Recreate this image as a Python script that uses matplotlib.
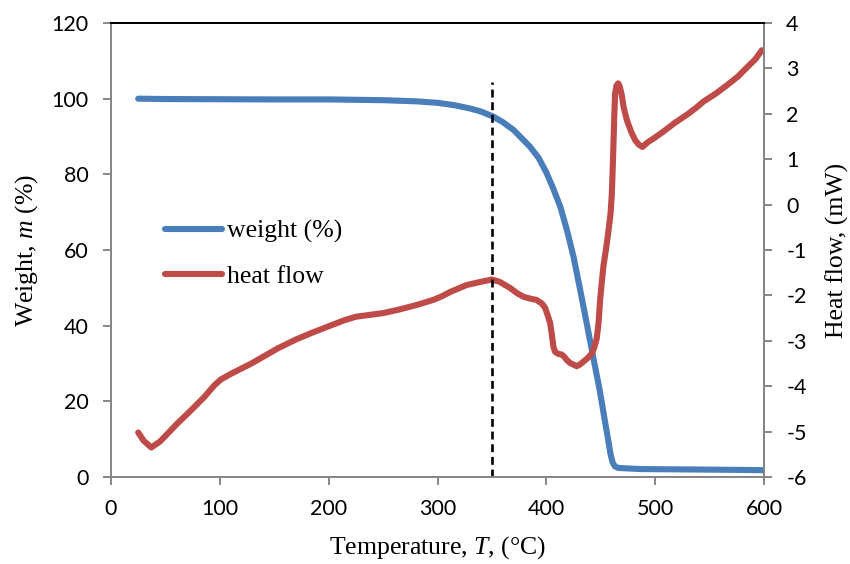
import numpy as np
import matplotlib
matplotlib.use('Agg')
import matplotlib.pyplot as plt

# Dados
temp_peso = [25, 50, 100, 150, 200, 250, 280, 300, 315, 330, 340, 351, 360, 370, 385, 393,
             400, 406, 413, 419, 425, 431, 437, 443, 449, 454, 457, 459, 461, 463, 466,
             486, 530, 570, 599]
peso = [100, 99.9, 99.85, 99.8, 99.8, 99.6, 99.3, 98.9, 98.3, 97.4, 96.6, 95.3, 93.8, 91.7,
        87.3, 84.3, 80.5, 76.5, 71.3, 65.2, 58.2, 49.6, 40.8, 31.8, 23.0, 14.5, 9.5, 6.0,
        3.8, 2.8, 2.4, 2.1, 2.0, 1.9, 1.8]

temp_fluxo = [25, 30, 37, 45, 61, 74, 86, 95, 101, 110, 129, 153, 170, 184, 200, 214, 225,
              250, 265, 281, 296, 304, 312, 327, 340, 350, 357, 362, 367, 373, 379, 385, 391,
              396, 399, 401, 403.5, 405, 406.5, 408, 411, 414, 416, 419, 422, 428, 431, 434,
              438, 442, 444, 446.3, 448, 449.4, 451, 452.5, 455, 457, 459, 460.2, 461, 461.7,
              462.5, 463.2, 464.5, 466, 467.5, 469.4, 471, 474, 478, 481.6, 485, 488.3, 493,
              500, 507.6, 518, 528.6, 537, 544.4, 556, 566, 576, 584.3, 592, 598]
fluxo = [-5.02, -5.2, -5.35, -5.22, -4.82, -4.52, -4.23, -3.98, -3.85, -3.73, -3.5, -3.17,
         -2.97, -2.83, -2.68, -2.55, -2.47, -2.39, -2.31, -2.21, -2.1, -2.02, -1.92, -1.77,
         -1.7, -1.65, -1.7, -1.77, -1.84, -1.95, -2.03, -2.07, -2.1, -2.18, -2.28, -2.42,
         -2.61, -2.85, -3.13, -3.24, -3.29, -3.3, -3.34, -3.43, -3.49, -3.56, -3.52, -3.46,
         -3.38, -3.27, -3.15, -2.95, -2.6, -2.1, -1.7, -1.35, -0.95, -0.6, -0.2, 0.25, 0.8,
         1.35, 2.0, 2.45, 2.62, 2.67, 2.6, 2.4, 2.15, 1.86, 1.6, 1.42, 1.32, 1.27, 1.37,
         1.48, 1.61, 1.8, 1.97, 2.12, 2.27, 2.45, 2.63, 2.82, 3.02, 3.2, 3.4]

t_marca = 350      # linha tracejada vertical
topo_marca = 2.7   # em unidades do eixo da direita

azul = '#4A7EBB'
vermelho = '#BE4B48'
cinza = '#868686'

plt.rcParams['mathtext.fontset'] = 'custom'
plt.rcParams['mathtext.rm'] = 'Liberation Serif'
plt.rcParams['mathtext.it'] = 'Liberation Serif:italic'
plt.rcParams['axes.unicode_minus'] = False

W, H = 850, 564
fig = plt.figure(figsize=(W / 100, H / 100), dpi=100)
ax = fig.add_axes([111 / W, 1 - 477 / H, 653 / W, 454 / H])
ax2 = ax.twinx()

l1, = ax.plot(temp_peso, peso, color=azul, lw=4.4, solid_capstyle='round',
              solid_joinstyle='round', label='weight (%)')
l2, = ax2.plot(temp_fluxo, fluxo, color=vermelho, lw=4.4, solid_capstyle='round',
               solid_joinstyle='round', label='heat flow')
ax2.plot([t_marca, t_marca], [-6, topo_marca], color='black', lw=1.9, linestyle=(0, (3.0, 1.8)))

ax.set_xlim(0, 600)
ax.set_ylim(0, 120)
ax2.set_ylim(-6, 4)
ax.set_xticks(range(0, 601, 100))
ax.set_yticks(range(0, 121, 20))
ax2.set_yticks(range(-6, 5, 1))

for a in (ax, ax2):
    for s in ('left', 'right', 'bottom'):
        a.spines[s].set_color(cinza)
        a.spines[s].set_linewidth(1.4)
    a.spines['top'].set_color('black')
    a.spines['top'].set_linewidth(1.4)
    a.tick_params(direction='out', length=6, width=1.4, color=cinza,
                  labelsize=15.5, labelcolor='black', pad=10)
    for lab in a.get_xticklabels() + a.get_yticklabels():
        lab.set_family('Lato')

serif = dict(family='Liberation Serif', fontsize=18.5)
fig.text(437.5 / W, 1 - 548 / H, 'Temperature, $T$, (°C)', ha='center', va='center', **serif)
fig.text(27 / W, 1 - 250 / H, 'Weight, $m$ (%)', rotation=90, ha='center', va='center', **serif)
fig.text(837 / W, 1 - 250 / H, 'Heat flow, (mW)', rotation=90, ha='center', va='center', **serif)

ax2.legend(handles=[l1, l2], loc='center left', bbox_to_anchor=(165 / W, 1 - 254 / H),
           bbox_transform=fig.transFigure, frameon=False, borderpad=0, borderaxespad=0,
           prop={'family': 'Liberation Serif', 'size': 18.5}, handlelength=2.2,
           labelspacing=0.85, handletextpad=0.2)

fig.savefig('out.png', dpi=100)
